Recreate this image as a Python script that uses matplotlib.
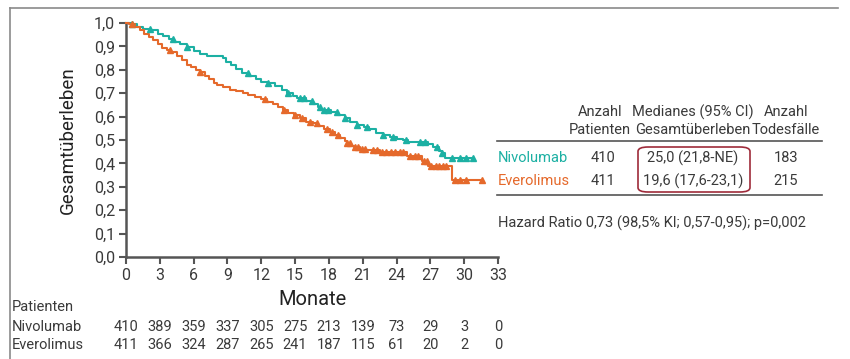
import matplotlib
matplotlib.use("Agg")
import matplotlib.pyplot as plt
import numpy as np
from matplotlib.transforms import blended_transform_factory
from matplotlib.patches import FancyBboxPatch
from matplotlib.lines import Line2D

plt.rcParams['font.family'] = ['Roboto', 'DejaVu Sans']

# ---------------- data ----------------
months_ticks = [0, 3, 6, 9, 12, 15, 18, 21, 24, 27, 30, 33]
y_ticks = [0.0, 0.1, 0.2, 0.3, 0.4, 0.5, 0.6, 0.7, 0.8, 0.9, 1.0]

nivo_t = [0, 0.5, 1.0, 1.5, 2.2, 2.8, 3.3, 3.8, 4.3, 4.8, 5.4, 6.0, 6.6, 7.2, 8.6,
          8.9, 9.3, 9.8, 10.3, 10.9, 11.5, 12.0, 12.6, 13.2, 13.8, 14.3, 14.8, 15.2,
          16.0, 16.6, 17.0, 17.3, 18.2, 18.8, 19.4, 19.9, 20.5, 21.1, 21.6, 22.2,
          22.8, 23.4, 24.0, 24.6, 25.0, 26.8, 27.2, 27.8, 28.0, 28.3, 30.8]
nivo_s = [1.0, 0.995, 0.985, 0.975, 0.968, 0.955, 0.945, 0.93, 0.92, 0.91, 0.896, 0.88,
          0.868, 0.858, 0.849, 0.835, 0.82, 0.805, 0.785, 0.772, 0.76, 0.75, 0.742, 0.73,
          0.714, 0.70, 0.69, 0.678, 0.668, 0.654, 0.64, 0.628, 0.618, 0.607, 0.592, 0.578,
          0.565, 0.557, 0.545, 0.531, 0.522, 0.514, 0.505, 0.498, 0.49, 0.484, 0.471,
          0.455, 0.445, 0.422, 0.422]
nivo_cens = [0.5, 2.1, 4.2, 5.4, 10.8, 12.6, 14.4, 15.4, 15.8, 16.5, 17.2, 17.6, 17.95,
             18.7, 19.4, 20.5, 21.4, 22.8, 23.7, 24.8, 26.1, 26.5, 27.6, 28.0, 28.9,
             29.6, 30.2, 30.8]

ever_t = [0, 0.3, 0.8, 1.2, 1.6, 2.0, 2.4, 2.8, 3.2, 3.6, 4.0, 4.5, 5.0, 5.4, 5.8, 6.2,
          6.6, 7.0, 7.4, 7.8, 8.1, 8.6, 9.2, 9.8, 10.4, 10.8, 11.4, 12.0, 12.5, 13.0,
          13.5, 13.9, 14.4, 14.9, 15.4, 16.0, 16.6, 17.0, 17.6, 18.1, 18.5, 19.0, 19.4,
          19.6, 20.0, 20.2, 20.8, 21.3, 22.5, 24.9, 26.3, 26.8, 28.9, 31.6]
ever_s = [1.0, 0.995, 0.985, 0.97, 0.955, 0.94, 0.927, 0.91, 0.895, 0.885, 0.875, 0.86,
          0.84, 0.82, 0.81, 0.80, 0.789, 0.775, 0.76, 0.745, 0.733, 0.725, 0.714, 0.71,
          0.70, 0.692, 0.685, 0.675, 0.664, 0.655, 0.64, 0.628, 0.615, 0.605, 0.592,
          0.578, 0.571, 0.56, 0.548, 0.536, 0.521, 0.508, 0.495, 0.486, 0.475, 0.471,
          0.462, 0.457, 0.45, 0.43, 0.41, 0.389, 0.329, 0.329]
ever_cens = [0.5, 3.9, 6.6, 12.3, 14.0, 15.0, 15.6, 16.3, 16.9, 17.8, 18.25, 18.8, 19.6,
             19.9, 20.3, 20.6, 20.9, 21.2, 21.9, 22.3, 22.7, 23.1, 23.5, 23.9, 24.3, 24.6,
             25.2, 25.6, 25.9, 26.4, 26.7, 27.1, 27.5, 27.8, 28.1, 28.4, 29.2, 29.6, 30.2,
             31.6]

risk_nivo = [410, 389, 359, 337, 305, 275, 213, 139, 73, 29, 3, 0]
risk_ever = [411, 366, 324, 287, 265, 241, 187, 115, 61, 20, 2, 0]

groups = ['Nivolumab', 'Everolimus']
n_patients = ['410', '411']
medians = ['25,0 (21,8-NE)', '19,6 (17,6-23,1)']
deaths = ['183', '215']
hr_text = 'Hazard Ratio 0,73 (98,5% KI; 0,57-0,95); p=0,002'

# ---------------- style ----------------
TEAL = '#1cb0a3'
ORANGE = '#e5692b'
TXT = '#3a3a3a'
AX = '#555555'
W, H = 850, 359

fig = plt.figure(figsize=(8.5, 3.59), dpi=100)
fig.patch.set_facecolor('white')

def fx(px):
    return px / W

def fy(py):
    return 1 - py / H

ax = fig.add_axes([fx(126), fy(257), fx(498) - fx(126), fy(23) - fy(257)])
ax.set_xlim(0, 33)
ax.set_ylim(0, 1.0)
ax.set_xticks(months_ticks)
ax.set_yticks(y_ticks)
ax.set_xticklabels([str(m) for m in months_ticks])
ax.set_yticklabels([f'{v:.1f}'.replace('.', ',') for v in y_ticks])
for s in ['top', 'right']:
    ax.spines[s].set_visible(False)
for s in ['left', 'bottom']:
    ax.spines[s].set_color(AX)
    ax.spines[s].set_linewidth(1.8)
ax.tick_params(axis='both', colors=AX, length=5, width=1.5, labelsize=11.5,
               labelcolor=TXT, pad=3)
ax.patch.set_alpha(0)


def surv_at(ts, ss, t):
    idx = np.searchsorted(ts, t, side='right') - 1
    return ss[max(idx, 0)]

for ts, ss, cens, col in [(nivo_t, nivo_s, nivo_cens, TEAL), (ever_t, ever_s, ever_cens, ORANGE)]:
    ax.step(ts, ss, where='post', color=col, lw=1.5, clip_on=False, zorder=3)
    cy = [surv_at(ts, ss, c) for c in cens]
    ax.plot(cens, cy, linestyle='none', marker='^', ms=4.5, color=col, clip_on=False, zorder=4)

ax.set_ylabel('Gesamtüberleben', fontsize=13.5, color='#222222', labelpad=12)
ax.set_xlabel('Monate', fontsize=14.5, color='#222222', labelpad=5)

# risk table
tr = blended_transform_factory(ax.transData, fig.transFigure)
rfs = 10.5
fig.text(fx(12), fy(307), 'Patienten', fontsize=rfs, color=TXT, va='center', ha='left')
fig.text(fx(12), fy(327), 'Nivolumab', fontsize=rfs, color=TXT, va='center', ha='left')
fig.text(fx(12), fy(345), 'Everolimus', fontsize=rfs, color=TXT, va='center', ha='left')
for m, a, b in zip(months_ticks, risk_nivo, risk_ever):
    fig.text(m, fy(327), str(a), transform=tr, fontsize=rfs, color=TXT, ha='center', va='center')
    fig.text(m, fy(345), str(b), transform=tr, fontsize=rfs, color=TXT, ha='center', va='center')

# right-side summary table
fs = 10.5
fig.text(fx(600), fy(112), 'Anzahl', fontsize=fs, color=TXT, ha='center', va='center')
fig.text(fx(600), fy(130), 'Patienten', fontsize=fs, color=TXT, ha='center', va='center')
fig.text(fx(693), fy(112), 'Medianes (95% CI)', fontsize=fs, color=TXT, ha='center', va='center')
fig.text(fx(693), fy(130), 'Gesamtüberleben', fontsize=fs, color=TXT, ha='center', va='center')
fig.text(fx(786), fy(112), 'Anzahl', fontsize=fs, color=TXT, ha='center', va='center')
fig.text(fx(786), fy(130), 'Todesfälle', fontsize=fs, color=TXT, ha='center', va='center')

fig.add_artist(Line2D([fx(497), fx(822)], [fy(141), fy(141)], color='#555555', lw=1.2))
fig.add_artist(Line2D([fx(497), fx(822)], [fy(195), fy(195)], color='#555555', lw=1.2))

row_y = [158, 181]
for g, n, md, d, col, yy in zip(groups, n_patients, medians, deaths, [TEAL, ORANGE], row_y):
    fig.text(fx(498), fy(yy), g, fontsize=fs, color=col, ha='left', va='center')
    fig.text(fx(603), fy(yy), n, fontsize=fs, color=TXT, ha='center', va='center')
    fig.text(fx(693), fy(yy), md, fontsize=fs, color=TXT, ha='center', va='center')
    fig.text(fx(786), fy(yy), d, fontsize=fs, color=TXT, ha='center', va='center')

box = FancyBboxPatch((fx(638), fy(192)), fx(750) - fx(638), fy(147) - fy(192),
                     boxstyle='round,pad=0,rounding_size=0.012', transform=fig.transFigure,
                     fill=False, edgecolor='#9e2b3a', lw=1.2)
fig.add_artist(box)

fig.text(fx(498), fy(223), hr_text, fontsize=fs, color=TXT, ha='left', va='center')

# outer frame (top and left only)
fig.add_artist(Line2D([fx(10), fx(838)], [fy(8), fy(8)], color='#8a8a8a', lw=1.2))
fig.add_artist(Line2D([fx(10), fx(10)], [fy(8), fy(359)], color='#8a8a8a', lw=1.2))

fig.savefig('out.png', dpi=100, facecolor='white')
